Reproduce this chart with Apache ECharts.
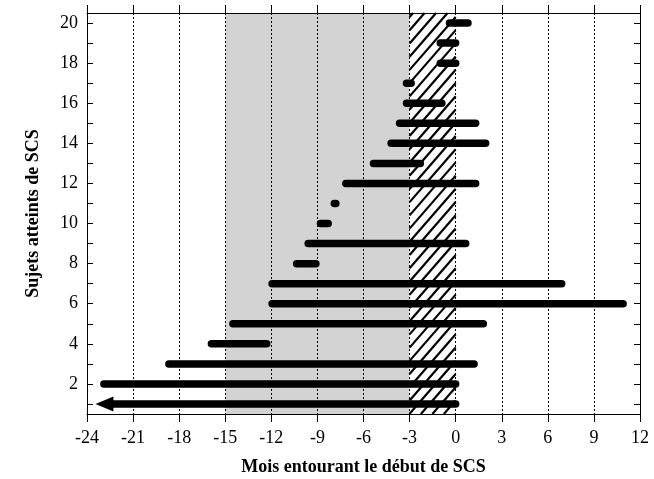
<!DOCTYPE html>
<html><head><meta charset="utf-8">
<script src="https://cdn.jsdelivr.net/npm/echarts@6/dist/echarts.min.js"></script>
<style>html,body{margin:0;padding:0;background:#fff}#c{width:654px;height:479px}</style>
</head><body><div id="c"></div>
<script>
// ---- data ----
var subjects    = [1,2,3,4,5,6,7,8,9,10,11,12,13,14,15,16,17,18,19,20];
var startMonths = [-23.45,-22.9,-18.67,-15.9,-14.5,-11.95,-11.95,-10.35,-9.6,-8.8,-7.9,-7.15,-5.35,-4.2,-3.65,-3.2,-3.2,-1.0,-1.0,-0.4];
var endMonths   = [0,0,1.2,-12.3,1.8,10.9,6.9,-9.1,0.65,-8.3,-7.8,1.3,-2.3,1.95,1.3,-0.9,-2.9,0,0,0.8];
var arrowSubjects = [1];
var grayBand  = [-15, -3];
var hatchBand = [-3, 0];
var xTicks = [-24,-21,-18,-15,-12,-9,-6,-3,0,3,6,9,12];
var yTickValues  = [1,2,3,4,5,6,7,8,9,10,11,12,13,14,15,16,17,18,19,20];
var yLabelValues = [2,4,6,8,10,12,14,16,18,20];
var xTitle = 'Mois entourant le début de SCS';
var yTitle = 'Sujets atteints de SCS';

var FONT = 'Liberation Serif';
var barData = subjects.map(function(s,i){ return [startMonths[i], endMonths[i], s]; });

var chart = echarts.init(document.getElementById('c'), null, {renderer:'canvas'});
var axisLineStyle = {color:'#000', width:1};
chart.setOption({
  animation:false,
  grid:{left:87, right:14, top:13, bottom:65, containLabel:false, outerBoundsMode:'none'},
  xAxis:[{
    type:'value', min:xTicks[0], max:xTicks[xTicks.length-1], interval:3, z:3,
    axisLine:{show:true, onZero:false, lineStyle:axisLineStyle},
    axisTick:{show:true, inside:false, length:8, lineStyle:axisLineStyle},
    axisLabel:{fontFamily:FONT, fontSize:18, color:'#000', margin:15},
    splitLine:{show:true, lineStyle:{color:'#000', width:1, type:[2,2]}},
    name:xTitle, nameLocation:'middle', nameGap:44,
    nameTextStyle:{fontFamily:FONT, fontSize:18, fontWeight:'bold', color:'#000'}
  },{
    type:'value', min:xTicks[0], max:xTicks[xTicks.length-1], interval:3, position:'top', z:3,
    axisLine:{show:true, onZero:false, lineStyle:axisLineStyle},
    axisTick:{show:true, inside:false, length:8, lineStyle:axisLineStyle},
    axisLabel:{show:false}, splitLine:{show:false}
  }],
  yAxis:[{
    type:'value', min:0.5, max:20.5, z:3,
    axisLine:{show:true, onZero:false, lineStyle:axisLineStyle},
    axisTick:{show:true, inside:true, length:6, customValues:yTickValues, lineStyle:axisLineStyle},
    axisLabel:{fontFamily:FONT, fontSize:18, color:'#000', margin:9, customValues:yLabelValues},
    splitLine:{show:false},
    name:yTitle, nameLocation:'middle', nameGap:45, nameRotate:90,
    nameTextStyle:{fontFamily:FONT, fontSize:18, fontWeight:'bold', color:'#000'}
  },{
    type:'value', min:0.5, max:20.5, position:'right', z:3,
    axisLine:{show:true, onZero:false, lineStyle:axisLineStyle},
    axisTick:{show:true, inside:true, length:6, customValues:yTickValues, lineStyle:axisLineStyle},
    axisLabel:{show:false}, splitLine:{show:false}
  }],
  series:[{
    type:'custom', z:1, silent:true,
    data:[[grayBand[0], grayBand[1], 0],[hatchBand[0], hatchBand[1], 1]],
    renderItem:function(params, api){
      var a = api.coord([api.value(0), 20.5]);
      var b = api.coord([api.value(1), 0.5]);
      var xa=a[0], xb=b[0], ya=a[1], yb=b[1];
      if (api.value(2) === 0) {
        return {type:'rect', shape:{x:xa, y:ya, width:xb-xa, height:yb-ya}, style:{fill:'#d3d3d3'}};
      }
      var children = [{type:'rect', shape:{x:xa, y:ya, width:xb-xa, height:yb-ya}, style:{fill:'#fff'}}];
      var k = 1.15, sp = 11.5;
      var cMin = ya + k*xa, cMax = yb + k*xb;
      for (var c = cMin + 4; c < cMax; c += sp*k) {
        var x1 = Math.max(xa, (c - yb)/k), x2 = Math.min(xb, (c - ya)/k);
        if (x2 > x1) children.push({type:'line', shape:{x1:x1, y1:c-k*x1, x2:x2, y2:c-k*x2},
          style:{stroke:'#000', lineWidth:2.2}});
      }
      return {type:'group', children:children};
    }
  },{
    type:'custom', z:5, silent:true,
    data:barData,
    renderItem:function(params, api){
      var s = api.value(2);
      var p0 = api.coord([api.value(0), s]);
      var p1 = api.coord([api.value(1), s]);
      var lw = 7.5;
      if (arrowSubjects.indexOf(s) >= 0) {
        var hl = 18, hh = 7.5;
        return {type:'group', children:[
          {type:'line', shape:{x1:p0[0]+hl-1, y1:p0[1], x2:p1[0], y2:p1[1]},
            style:{stroke:'#000', lineWidth:lw, lineCap:'round'}},
          {type:'polygon', shape:{points:[[p0[0],p0[1]],[p0[0]+hl,p0[1]-hh],[p0[0]+hl,p0[1]+hh]]}, style:{fill:'#000'}}
        ]};
      }
      return {type:'line', shape:{x1:p0[0], y1:p0[1], x2:p1[0], y2:p1[1]},
        style:{stroke:'#000', lineWidth:lw, lineCap:'round'}};
    }
  }]
});
</script></body></html>
